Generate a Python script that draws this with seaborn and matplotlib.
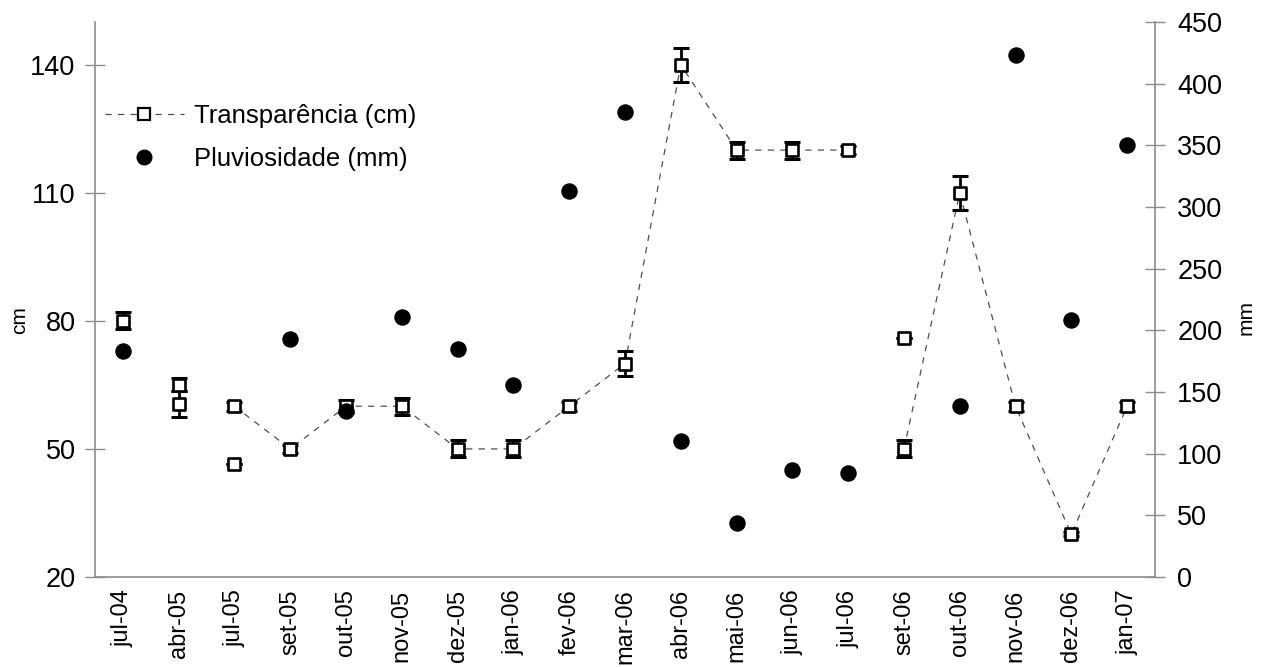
import numpy as np
import pandas as pd
import matplotlib
matplotlib.use("Agg")
import matplotlib.pyplot as plt
from matplotlib.lines import Line2D
import seaborn as sns

# ---------------- data ----------------
categories = ['jul-04', 'abr-05', 'jul-05', 'set-05', 'out-05', 'nov-05', 'dez-05',
              'jan-06', 'fev-06', 'mar-06', 'abr-06', 'mai-06', 'jun-06', 'jul-06',
              'set-06', 'out-06', 'nov-06', 'dez-06', 'jan-07']

transparencia = [80, 60.5, 60, 50, 60, 60, 50, 50, 60, 70, 140, 120, 120, 120,
                 50, 110, 60, 30, 60]
transparencia_err = [2, 3, 1, 1, 1.5, 2, 2, 2, 1, 3, 4, 2, 2, 1, 2, 4, 1, 0.5, 1]
# line segments (None = point not joined by the dashed line)
segment = [None, None, 1, 1, 1, 1, 1, 1, 1, 1, 1, 1, 1, 1, 2, 2, 2, 2, 2]

extra_categories = ['abr-05', 'jul-05', 'set-06']
extra_transparencia = [65, 46.5, 76]
extra_err = [1.5, 0, 0]

pluviosidade = [183, np.nan, np.nan, 193, 135, 211, 185, 156, 313, 377, 110, 44,
                87, 84, np.nan, 139, 423, 208, 350]

# ---------------- style ----------------
sns.set_style("white")
plt.rcParams['font.family'] = ['Liberation Sans', 'DejaVu Sans']
plt.rcParams['text.color'] = 'black'
plt.rcParams['xtick.labelcolor'] = 'black'
plt.rcParams['ytick.labelcolor'] = 'black'
plt.rcParams['axes.labelcolor'] = 'black'

GRAY = '#8c8c8c'

fig = plt.figure(figsize=(12.63, 6.67), dpi=100)
ax = fig.add_axes([95 / 1263, 90 / 667, 1060 / 1263, 555 / 667])

pos = {c: i for i, c in enumerate(categories)}
df = pd.DataFrame({'x': np.arange(len(categories)), 'cat': categories,
                   'transp': transparencia, 'err': transparencia_err,
                   'segment': segment, 'pluv': pluviosidade})
df_line = df.dropna(subset=['segment'])

df_extra = pd.DataFrame({'x': [pos[c] for c in extra_categories],
                         'transp': extra_transparencia, 'err': extra_err})

# dashed connecting line
sns.lineplot(data=df_line, x='x', y='transp', units='segment', estimator=None,
             color='#505050', linewidth=0.9, linestyle=(0, (5, 5)), ax=ax,
             zorder=2, legend=False)

# error bars
for d in (df, df_extra):
    ax.errorbar(d['x'], d['transp'], yerr=d['err'], fmt='none', ecolor='black',
                elinewidth=2.0, capsize=5.5, capthick=2.2, zorder=3)

# squares
for d in (df, df_extra):
    sns.scatterplot(data=d, x='x', y='transp', marker='s', s=75, color='white',
                    edgecolor='black', linewidth=1.9, ax=ax, zorder=4, legend=False)

ax.set_xlim(-0.5, len(categories) - 0.5)
ax.set_ylim(20, 150)
ax.set_yticks([20, 50, 80, 110, 140])
ax.set_xticks(np.arange(-0.5, len(categories), 1.0))
ax.set_xticklabels([])
ax.set_xticks(np.arange(len(categories)), minor=True)
ax.set_xticklabels(categories, minor=True, rotation=90, fontsize=17)
ax.tick_params(axis='x', which='major', direction='inout', length=10,
               color=GRAY, width=1)
ax.tick_params(axis='x', which='minor', length=0, pad=9)
ax.tick_params(axis='y', direction='inout', length=14, color=GRAY, width=1,
               labelsize=19.5, pad=7)
ax.set_xlabel('')
ax.set_ylabel('cm', fontsize=15)
ax.yaxis.set_label_coords(-0.062, 0.463)

for s in ('top', 'right'):
    ax.spines[s].set_visible(False)
for s in ('left', 'bottom'):
    ax.spines[s].set_color(GRAY)
    ax.spines[s].set_linewidth(1.2)

# right axis: rainfall
ax2 = ax.twinx()
sns.scatterplot(data=df, x='x', y='pluv', marker='o', s=120, color='black',
                edgecolor='black', ax=ax2, zorder=5, legend=False)
ax2.set_ylim(0, 450)
ax2.set_yticks(np.arange(0, 451, 50))
ax2.set_xlim(-0.5, len(categories) - 0.5)
ax2.tick_params(axis='y', direction='inout', length=14, color=GRAY, width=1,
                labelsize=19.5, pad=9)
ax2.set_ylabel('mm', fontsize=15, rotation=90)
ax2.yaxis.set_label_coords(1.077, 0.467)
for s in ('top', 'left', 'bottom'):
    ax2.spines[s].set_visible(False)
ax2.spines['right'].set_color(GRAY)
ax2.spines['right'].set_linewidth(1.2)

# legend
h1 = Line2D([], [], color='#505050', linewidth=0.9, linestyle=(0, (5, 5)),
            marker='s', markersize=8, markerfacecolor='white',
            markeredgecolor='black', markeredgewidth=1.6)
h2 = Line2D([], [], linestyle='none', marker='o', markersize=10.5,
            markerfacecolor='black', markeredgecolor='black')
ax2.legend([h1, h2], ['Transparência (cm)', 'Pluviosidade (mm)'],
           loc='upper left', bbox_to_anchor=(0.009, 0.853), frameon=False,
           fontsize=18.5, handlelength=3.1, handletextpad=0.4, labelspacing=0.75,
           borderpad=0, borderaxespad=0)

fig.savefig('out.png', dpi=100)
